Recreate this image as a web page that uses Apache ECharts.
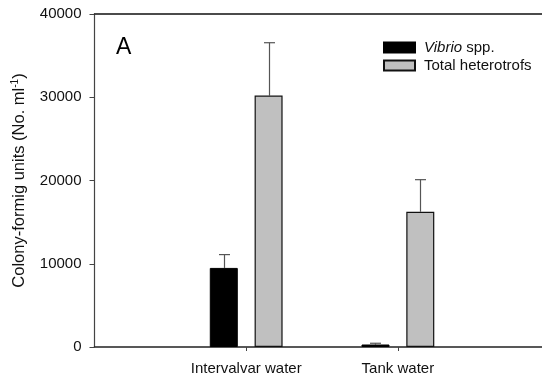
<!DOCTYPE html>
<html>
<head>
<meta charset="utf-8">
<script src="https://cdn.jsdelivr.net/npm/echarts@6/dist/echarts.min.js"></script>
<style>
  html, body { margin: 0; padding: 0; background: #fff; }
  #chart { width: 542px; height: 385px; }
</style>
</head>
<body>
<div id="chart"></div>
<script>
// Sampling sites and colony counts (CFU per ml), mean and upper error
const categories = ['Intervalvar water', 'Tank water'];
const vibrioMean = [9500, 300];
const vibrioErr = [1600, 150];
const totalMean = [30200, 16250];
const totalErr = [6350, 3850];
const yTicks = [0, 10000, 20000, 30000, 40000];

const FONT = '"Liberation Sans", Arial, sans-serif';
const sitePos = categories.map((_, i) => i + 1);

function pairs(values) {
  return values.map((v, i) => [sitePos[i], v]);
}

function errorData(means, errs) {
  return means.map((m, i) => [sitePos[i], m, m + errs[i]]);
}

// Upper error whisker with a cap, shifted onto its bar within the group
function whisker(offsetPx) {
  return function (params, api) {
    const x = api.value(0);
    const base = api.coord([x, api.value(1)]);
    const top = api.coord([x, api.value(2)]);
    const cx = Math.round(base[0] + offsetPx) + 0.5;
    const half = 5.5;
    const style = { stroke: '#555', lineWidth: 1.2, fill: null };
    return {
      type: 'group',
      children: [
        { type: 'line', shape: { x1: cx, y1: base[1], x2: cx, y2: top[1] }, style: style },
        { type: 'line', shape: { x1: cx - half, y1: top[1], x2: cx + half, y2: top[1] }, style: style }
      ]
    };
  };
}

const chart = echarts.init(document.getElementById('chart'), null, { renderer: 'canvas' });

const xCommon = {
  type: 'value',
  min: 0,
  max: 2.95,
  splitLine: { show: false }
};

chart.setOption({
  animation: false,
  backgroundColor: '#fff',
  textStyle: { fontFamily: FONT },
  grid: { left: 94.5, right: 0, top: 14, bottom: 38, containLabel: false },
  legend: {
    orient: 'vertical',
    left: 378,
    top: 35,
    itemWidth: 31,
    itemHeight: 10,
    itemGap: 3,
    selectedMode: false,
    icon: 'rect',
    textStyle: {
      fontFamily: FONT,
      fontSize: 15,
      color: '#111',
      padding: [0, 0, 0, 4],
      rich: {
        i: { fontStyle: 'italic', fontFamily: FONT, fontSize: 15, color: '#111' }
      }
    },
    formatter: function (name) {
      return name === 'Vibrio spp.' ? '{i|Vibrio} spp.' : name;
    },
    data: ['Vibrio spp.', 'Total heterotrofs']
  },
  xAxis: [
    Object.assign({}, xCommon, {
      position: 'bottom',
      axisLine: { show: true, lineStyle: { color: '#222', width: 1.6 } },
      axisTick: { show: true, customValues: sitePos, length: 4, lineStyle: { color: '#444', width: 1 } },
      axisLabel: {
        show: true,
        customValues: sitePos,
        margin: 14,
        fontSize: 15,
        fontFamily: FONT,
        color: '#111',
        formatter: function (v) { return categories[Math.round(v) - 1] || ''; }
      }
    }),
    Object.assign({}, xCommon, {
      position: 'top',
      axisLine: { show: true, onZero: false, lineStyle: { color: '#111', width: 1.5 } },
      axisTick: { show: false },
      axisLabel: { show: false }
    })
  ],
  yAxis: {
    type: 'value',
    min: yTicks[0],
    max: yTicks[yTicks.length - 1],
    interval: yTicks[1] - yTicks[0],
    splitLine: { show: false },
    axisLine: { show: true, lineStyle: { color: '#444', width: 1.2 } },
    axisTick: { show: true, length: 5, lineStyle: { color: '#444', width: 1 } },
    axisLabel: {
      margin: 13, fontSize: 15, fontFamily: FONT, color: '#111',
      formatter: function (v) { return String(v); }
    },
    name: '{t|Colony-formig units (No. ml}{s|-1}{t|)}',
    nameLocation: 'middle',
    nameGap: 66,
    nameRotate: 90,
    nameTextStyle: {
      fontFamily: FONT,
      color: '#111',
      rich: {
        t: { fontSize: 16.5, fontFamily: FONT, color: '#111' },
        s: { fontSize: 10, fontFamily: FONT, color: '#111', verticalAlign: 'top', padding: [0, 0, 8, 0] }
      }
    }
  },
  graphic: [
    {
      type: 'text',
      left: 116,
      top: 36,
      style: { text: 'A', fontSize: 23, fontFamily: FONT, fill: '#000' }
    }
  ],
  series: [
    {
      name: 'Vibrio spp.',
      type: 'bar',
      xAxisIndex: 0,
      barWidth: 28,
      barGap: '60%',
      itemStyle: { color: '#000', borderColor: '#000', borderWidth: 1 },
      data: pairs(vibrioMean)
    },
    {
      name: 'Total heterotrofs',
      type: 'bar',
      xAxisIndex: 0,
      barWidth: 28,
      barGap: '60%',
      itemStyle: { color: '#c0c0c0', borderColor: '#111', borderWidth: 1.2 },
      data: pairs(totalMean)
    },
    {
      type: 'custom',
      xAxisIndex: 0,
      silent: true,
      renderItem: whisker(-22.4),
      encode: { x: 0, y: [1, 2] },
      data: errorData(vibrioMean, vibrioErr),
      z: 1
    },
    {
      type: 'custom',
      xAxisIndex: 0,
      silent: true,
      renderItem: whisker(22.4),
      encode: { x: 0, y: [1, 2] },
      data: errorData(totalMean, totalErr),
      z: 1
    }
  ]
});
</script>
</body>
</html>
